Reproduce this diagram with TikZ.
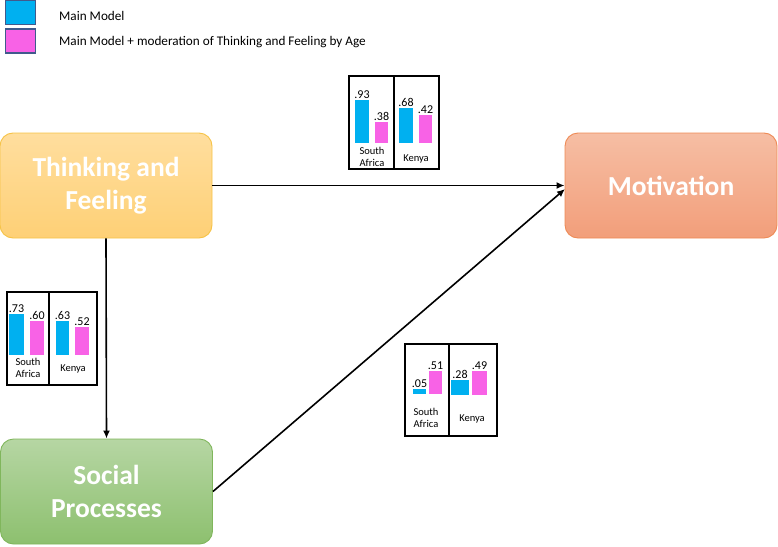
\documentclass[tikz,border=0pt]{standalone}
\usepackage{fontspec}
\setmainfont{Carlito}
\usetikzlibrary{arrows.meta}
\definecolor{cy}{RGB}{0,176,240}
\definecolor{pk}{RGB}{248,98,230}
\definecolor{legbd}{RGB}{65,90,140}
\begin{document}
\begin{tikzpicture}[x=1pt,y=-1pt,
  bigbox/.style={rounded corners=13pt, minimum width=212pt, minimum height=105pt, line width=0.9pt,
    text=white, font=\fontsize{27.5}{33}\selectfont\bfseries, align=center},
  conn/.style={line width=1.6pt, -{Latex[length=8pt,width=7pt]}},
  val/.style={font=\fontsize{12}{13}\selectfont, anchor=south, inner sep=1pt},
  ctry/.style={font=\fontsize{10.5}{12}\selectfont, align=center, inner sep=0pt},
  chartbox/.style={draw=black, line width=1.4pt},
  legtext/.style={font=\fontsize{13.2}{15}\selectfont, anchor=west, inner sep=0pt}]
\useasboundingbox (0,0) rectangle (778,546);

% legend
\node[draw=legbd, line width=1.3pt, fill=cy, minimum width=30pt, minimum height=24pt, inner sep=0pt] (lg1) at (20.5,12.5) {};
\node[draw=legbd, line width=1.3pt, fill=pk, minimum width=30pt, minimum height=24pt, inner sep=0pt] (lg2) at (20.5,41) {};
\node[legtext] (lt1) at (59,16) {Main Model};
\node[legtext] (lt2) at (59,42) {Main Model + moderation of Thinking and Feeling by Age};

% main boxes
\node[bigbox, draw={rgb,255:red,246;green,195;blue,70}, top color={rgb,255:red,255;green,222;blue,158}, bottom color={rgb,255:red,254;green,208;blue,118}] (TF) at (106,185.5) {Thinking and\\Feeling};
\node[bigbox, draw={rgb,255:red,128;green,182;blue,92}, top color={rgb,255:red,182;green,214;blue,163}, bottom color={rgb,255:red,141;green,192;blue,111}] (SP) at (106.5,491.5) {Social\\Processes};
\node[bigbox, draw={rgb,255:red,238;green,138;blue,85}, top color={rgb,255:red,246;green,190;blue,164}, bottom color={rgb,255:red,242;green,158;blue,122}] (MO) at (671,185.5) {Motivation};

\coordinate (moin) at (565,189);
\draw[conn] (TF.east) -- (MO.west);
\draw[conn] (TF.south) -- (SP.north);
\draw[conn] (SP.east) -- (moin);

% top chart
\draw[chartbox] (349,76) rectangle (439,169);
\draw[chartbox] (394,76) -- (394,169);
\fill[cy] (355,100) rectangle (369,143);
\fill[pk] (375,122) rectangle (388,143);
\fill[cy] (399,108) rectangle (413,143);
\fill[pk] (419,115) rectangle (432,143);
\node[val] (v1) at (362,100) {.93};
\node[val] (v2) at (381.5,122) {.38};
\node[val] (v3) at (406,108) {.68};
\node[val] (v4) at (425.5,115) {.42};
\node[ctry] (c1) at (372,156.5) {South\\Africa};
\node[ctry] (c2) at (416,158.5) {Kenya};

% left chart
\draw[chartbox] (7,292) rectangle (97,385);
\draw[chartbox] (49,292) -- (49,385);
\fill[cy] (9,314) rectangle (24,355);
\fill[pk] (30,321) rectangle (44,355);
\fill[cy] (56,321) rectangle (69,355);
\fill[pk] (75,327) rectangle (89,355);
\node[val] (v5) at (16.5,314) {.73};
\node[val] (v6) at (37,321) {.60};
\node[val] (v7) at (62.5,321) {.63};
\node[val] (v8) at (82,327) {.52};
\node[ctry] (c3) at (28,368) {South\\Africa};
\node[ctry] (c4) at (73,368.5) {Kenya};

% right chart
\draw[chartbox] (405,344) rectangle (497,436);
\draw[chartbox] (449,344) -- (449,436);
\fill[cy] (413,389) rectangle (426,394);
\fill[pk] (429,371) rectangle (442,394);
\fill[cy] (451,380) rectangle (469,395);
\fill[pk] (472,371) rectangle (487,395);
\node[val] (v9) at (419.5,389) {.05};
\node[val] (v10) at (435.5,371) {.51};
\node[val] (v11) at (460,380) {.28};
\node[val] (v12) at (479.5,371) {.49};
\node[ctry] (c5) at (426,418) {South\\Africa};
\node[ctry] (c6) at (472,418.5) {Kenya};
\end{tikzpicture}
\end{document}
